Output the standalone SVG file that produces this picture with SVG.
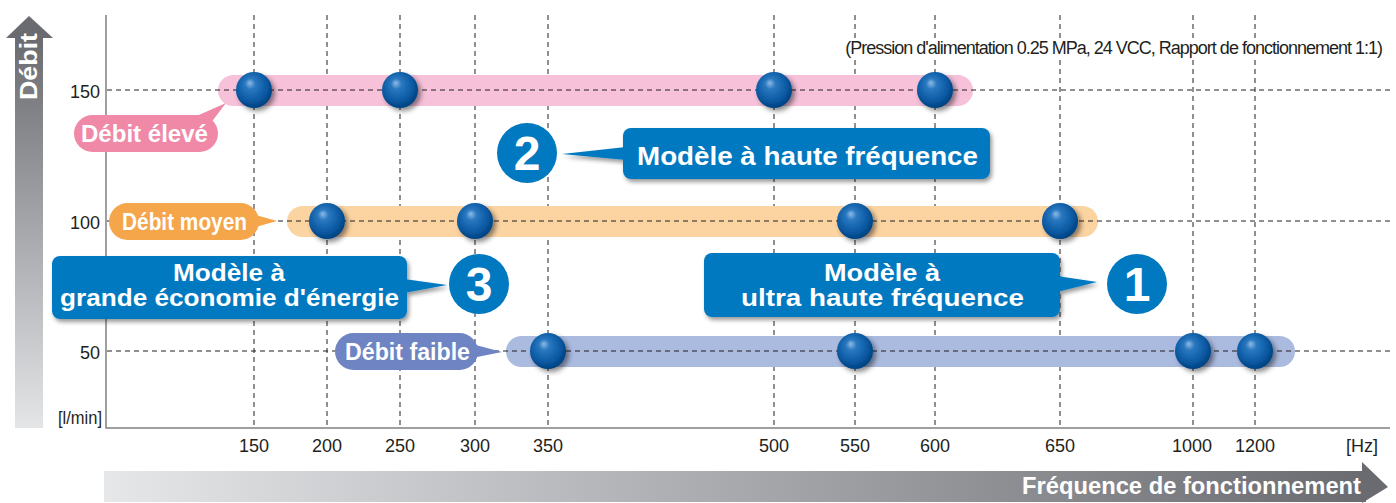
<svg xmlns="http://www.w3.org/2000/svg" width="1396" height="503" viewBox="0 0 1396 503">
<defs>
<linearGradient id="gv" x1="0" y1="0" x2="0" y2="1"><stop offset="0" stop-color="#6a6b70"/><stop offset="1" stop-color="#e4e5e7"/></linearGradient>
<linearGradient id="gh" x1="0" y1="0" x2="1" y2="0"><stop offset="0" stop-color="#e6e7e9"/><stop offset="1" stop-color="#6a6b70"/></linearGradient>
<radialGradient id="ball" cx="0.45" cy="0.42" r="0.6" fx="0.38" fy="0.3">
<stop offset="0" stop-color="#8dbbe6"/><stop offset="0.25" stop-color="#2a78c0"/><stop offset="0.7" stop-color="#0a5aa3"/><stop offset="1" stop-color="#003f7e"/></radialGradient>
<filter id="sh" x="-30%" y="-30%" width="160%" height="160%"><feDropShadow dx="2" dy="3" stdDeviation="2" flood-color="#000" flood-opacity="0.4"/></filter>
<filter id="bsh" x="-40%" y="-40%" width="180%" height="180%"><feDropShadow dx="3" dy="3" stdDeviation="2.5" flood-color="#000" flood-opacity="0.45"/></filter>
<style>
.ax{font-family:"Liberation Sans",Arial,sans-serif;font-size:18px;fill:#231f20}
.grid{stroke:#231f20;stroke-width:1;stroke-dasharray:5,4;fill:none}
.pill{font-family:"Liberation Sans",Arial,sans-serif;font-weight:bold;font-size:23px;fill:#fff}
.box{fill:#0079c1}
.bt{font-family:"Liberation Sans",Arial,sans-serif;font-weight:bold;font-size:25px;fill:#fff}
.bt2{font-family:"Liberation Sans",Arial,sans-serif;font-weight:bold;font-size:23px;fill:#fff}
.num{font-family:"Liberation Sans",Arial,sans-serif;font-weight:bold;font-size:48px;fill:#fff;text-anchor:middle}
.b{fill:url(#ball);filter:url(#bsh)}
</style>
</defs>
<rect width="1396" height="503" fill="#fff"/>

<g id="y-axis-arrow">
<rect x="15" y="37" width="28" height="391" fill="url(#gv)"/>
<polygon points="6,38 29,16 53,38" fill="#6a6b70"/>
<text transform="translate(37,100) rotate(-90)" font-family="Liberation Sans,Arial,sans-serif" font-weight="bold" font-size="23" fill="#fff" textLength="67" lengthAdjust="spacingAndGlyphs">Débit</text>
</g>
<g id="x-axis-arrow">
<rect x="104" y="471" width="1262" height="31" fill="url(#gh)"/>
<polygon points="1362,462 1388,487 1362,503" fill="#6a6b70"/>
<text x="1022" y="494" font-family="Liberation Sans,Arial,sans-serif" font-weight="bold" font-size="23" fill="#fff" textLength="339" lengthAdjust="spacingAndGlyphs">Fréquence de fonctionnement</text>
</g>

<g id="grid">
<line class="grid" x1="254" y1="15" x2="254" y2="428"/>
<line class="grid" x1="327" y1="15" x2="327" y2="428"/>
<line class="grid" x1="400" y1="15" x2="400" y2="428"/>
<line class="grid" x1="475" y1="15" x2="475" y2="428"/>
<line class="grid" x1="548" y1="15" x2="548" y2="428"/>
<line class="grid" x1="774" y1="15" x2="774" y2="428"/>
<line class="grid" x1="855" y1="15" x2="855" y2="428"/>
<line class="grid" x1="935" y1="15" x2="935" y2="428"/>
<line class="grid" x1="1060" y1="15" x2="1060" y2="428"/>
<line class="grid" x1="1193" y1="15" x2="1193" y2="428"/>
<line class="grid" x1="1255" y1="15" x2="1255" y2="428"/>
</g>

<g id="bands">
<rect x="218" y="75" width="755" height="31" rx="15.5" fill="#f6c1d9"/>
<rect x="287" y="206" width="811" height="31" rx="15.5" fill="#fcd4a2"/>
<rect x="506" y="336" width="789" height="31" rx="15.5" fill="#abbadf"/>
</g>

<g id="hgrid">
<line class="grid" x1="107" y1="90" x2="1390" y2="90"/>
<line class="grid" x1="107" y1="221" x2="1390" y2="221"/>
<line class="grid" x1="107" y1="351" x2="1390" y2="351"/>
</g>

<g id="axes">
<polyline points="106,15 106,428 1390,428" fill="none" stroke="#808080" stroke-width="1.5"/>
<text class="ax" x="100" y="98" text-anchor="end">150</text>
<text class="ax" x="100" y="229" text-anchor="end">100</text>
<text class="ax" x="100" y="359" text-anchor="end">50</text>
<text class="ax" x="102" y="424" text-anchor="end" font-size="16" textLength="44" lengthAdjust="spacingAndGlyphs">[l/min]</text>
<g text-anchor="middle">
<text class="ax" x="254" y="452">150</text>
<text class="ax" x="327" y="452">200</text>
<text class="ax" x="400" y="452">250</text>
<text class="ax" x="475" y="452">300</text>
<text class="ax" x="548" y="452">350</text>
<text class="ax" x="774" y="452">500</text>
<text class="ax" x="855" y="452">550</text>
<text class="ax" x="935" y="452">600</text>
<text class="ax" x="1060" y="452">650</text>
<text class="ax" x="1192" y="452">1000</text>
<text class="ax" x="1255" y="452">1200</text>
<text class="ax" x="1362" y="452">[Hz]</text>
</g>
<rect x="838" y="38" width="547" height="22" fill="#fff"/>
<text class="ax" x="1382" y="54" font-size="15.5" letter-spacing="-1" text-anchor="end">(Pression d'alimentation 0.25 MPa, 24 VCC, Rapport de fonctionnement 1:1)</text>
</g>

<g id="balls">
<circle class="b" cx="254" cy="90" r="18"/>
<circle class="b" cx="400" cy="90" r="18"/>
<circle class="b" cx="774" cy="90" r="18"/>
<circle class="b" cx="935" cy="90" r="18"/>
<circle class="b" cx="327" cy="221" r="18"/>
<circle class="b" cx="475" cy="221" r="18"/>
<circle class="b" cx="855" cy="221" r="18"/>
<circle class="b" cx="1060" cy="221" r="18"/>
<circle class="b" cx="548" cy="351" r="18"/>
<circle class="b" cx="855" cy="351" r="18"/>
<circle class="b" cx="1193" cy="351" r="18"/>
<circle class="b" cx="1255" cy="351" r="18"/>
</g>

<g id="pill-eleve">
<rect x="74" y="115" width="144" height="37" rx="18.5" fill="#f088a8"/>
<polygon points="192,118 210,124 226,103" fill="#f088a8"/>
<text class="pill" x="81" y="142" textLength="127" lengthAdjust="spacingAndGlyphs">Débit élevé</text>
</g>
<g id="pill-moyen">
<rect x="109" y="203" width="150" height="37" rx="18.5" fill="#f5a54a"/>
<polygon points="252,214 252,228 277,221" fill="#f5a54a"/>
<text class="pill" x="122" y="230" textLength="125" lengthAdjust="spacingAndGlyphs">Débit moyen</text>
</g>
<g id="pill-faible">
<rect x="335" y="333" width="143" height="37" rx="18.5" fill="#6f84c2"/>
<polygon points="472,344 472,358 502,352" fill="#6f84c2"/>
<text class="pill" x="345" y="360" textLength="125" lengthAdjust="spacingAndGlyphs">Débit faible</text>
</g>

<g id="model-2">
<g filter="url(#sh)">
<rect class="box" x="623" y="128" width="367" height="51" rx="8"/>
<polygon class="box" points="626,147 626,160 562,154"/>
</g>
<circle class="box" cx="527" cy="153" r="30"/>
<text class="num" x="527" y="170">2</text>
<text class="bt" x="637" y="165" textLength="341" lengthAdjust="spacingAndGlyphs">Modèle à haute fréquence</text>
</g>

<g id="model-3">
<g filter="url(#sh)">
<rect class="box" x="52" y="256" width="355" height="63" rx="8"/>
<polygon class="box" points="404,279 404,293 447,285"/>
</g>
<circle class="box" cx="479" cy="284" r="30"/>
<text class="num" x="479" y="301">3</text>
<text class="bt2" x="173" y="281" textLength="112" lengthAdjust="spacingAndGlyphs">Modèle à</text>
<text class="bt2" x="60" y="306" textLength="339" lengthAdjust="spacingAndGlyphs">grande économie d'énergie</text>
</g>

<g id="model-1">
<g filter="url(#sh)">
<rect class="box" x="704" y="253" width="356" height="64" rx="8"/>
<polygon class="box" points="1057,276 1057,292 1097,282"/>
</g>
<circle class="box" cx="1137" cy="284" r="30"/>
<text class="num" x="1137" y="301">1</text>
<text class="bt2" x="824" y="281" textLength="116" lengthAdjust="spacingAndGlyphs">Modèle à</text>
<text class="bt2" x="741" y="306" textLength="283" lengthAdjust="spacingAndGlyphs">ultra haute fréquence</text>
</g>
</svg>
